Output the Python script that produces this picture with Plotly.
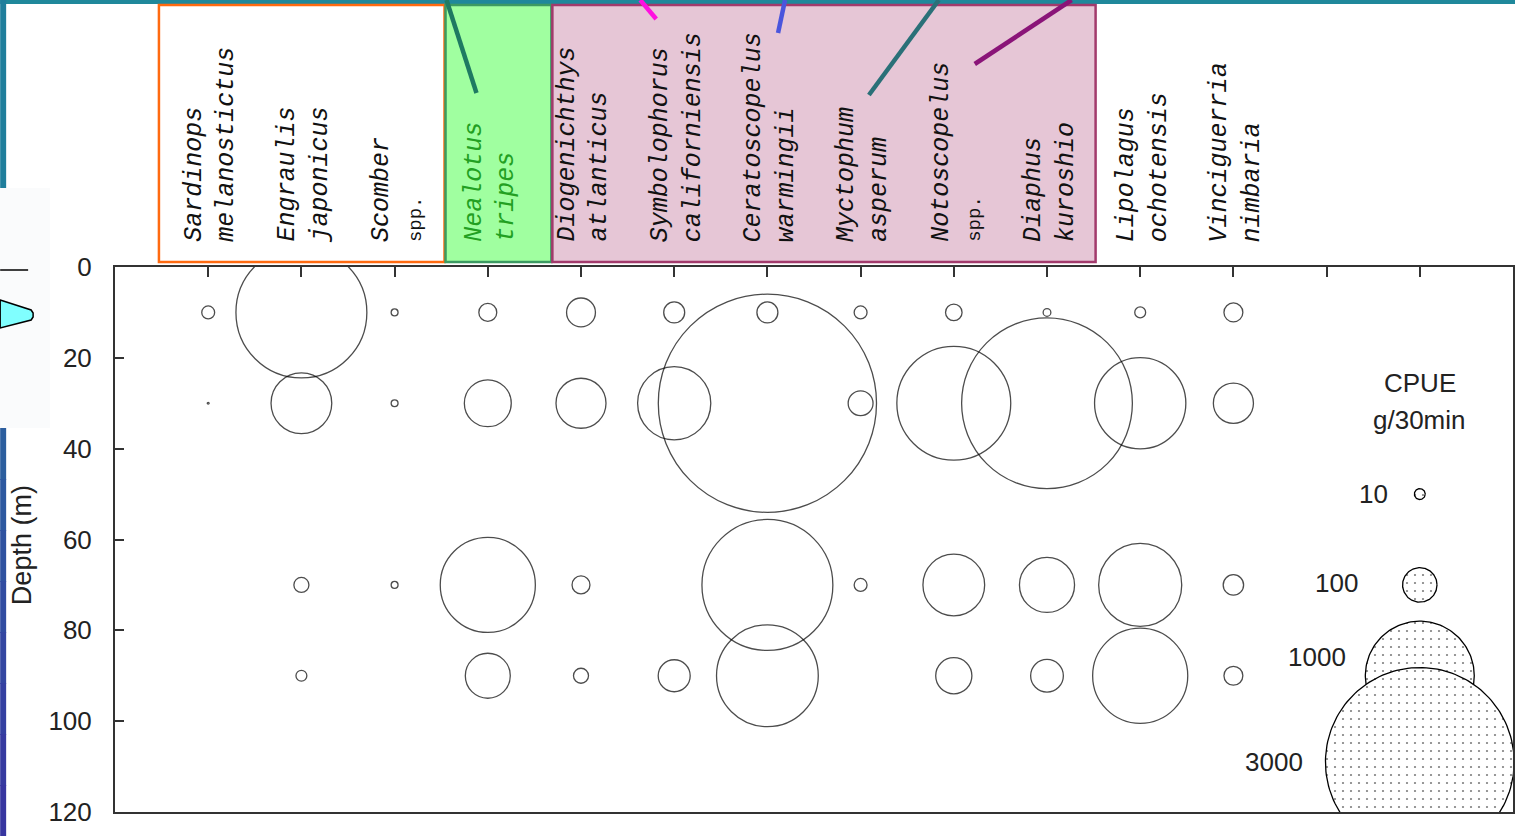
import numpy as np
import plotly.graph_objects as go

# ---------------- data ----------------
species = [
    ("Sardinops", "melanostictus"),
    ("Engraulis", "japonicus"),
    ("Scomber", "spp."),
    ("Nealotus", "tripes"),
    ("Diogenichthys", "atlanticus"),
    ("Symbolophorus", "californiensis"),
    ("Ceratoscopelus", "warmingii"),
    ("Myctophum", "asperum"),
    ("Notoscopelus", "spp."),
    ("Diaphus", "kuroshio"),
    ("Lipolagus", "ochotensis"),
    ("Vinciguerria", "nimbaria"),
]
depths = [10, 30, 70, 90]
# CPUE (g/30min) per species at each depth (None = not caught)
cpue_10m = [14, 1440, 4, 27, 70, 37, 37, 14, 23, 5, 10, 30]
cpue_30m = [0.3, 310, 4, 185, 210, 450, 4000, 52, 1090, 2450, 700, 135]
cpue_70m = [None, 19, 4, 760, 27, None, 1440, 14, 320, 255, 580, 35]
cpue_90m = [None, 10, None, 170, 19, 86, 870, None, 110, 90, 760, 30]

legend_values = [10, 100, 1000, 3000]
legend_depths = [50, 70, 90, 109]
legend_labels = ["10", "100", "1000", "3000"]

depth_ticks = [0, 20, 40, 60, 80, 100, 120]

# ---------------- geometry helpers ----------------
W, H = 1517, 836
ML, MR, MT, MB = 115, 2, 267, 24
PW, PH = W - ML - MR, H - MT - MB
XMAX, YMAX = 15, 120
K = 3.45  # marker diameter (px) per sqrt(g/30min)


def px(x):
    return (x - ML) / PW


def py(y):
    return (H - MB - y) / PH


def diam(v):
    return None if v is None else K * np.sqrt(v)


fig = go.Figure()

cols = list(range(1, len(species) + 1))
for d, vals in zip(depths, [cpue_10m, cpue_30m, cpue_70m, cpue_90m]):
    xs = [c for c, v in zip(cols, vals) if v is not None]
    ss = [diam(v) for v in vals if v is not None]
    fig.add_trace(go.Scatter(
        x=xs, y=[d] * len(xs), mode="markers",
        marker=dict(symbol="circle-open", size=ss, sizemode="diameter",
                    color="black", line=dict(width=1.3, color="black")),
        showlegend=False, hoverinfo="skip"))

# legend circles (dotted)
t = np.linspace(0, 2 * np.pi, 160)
leg_x = 14
for v, d in zip(legend_values, legend_depths):
    r = diam(v) / 2
    rx = r / (PW / XMAX)
    ry = r / (PH / YMAX)
    fig.add_trace(go.Scatter(
        x=leg_x + rx * np.cos(t), y=d + ry * np.sin(t), mode="lines",
        fill="toself", fillcolor="white",
        fillpattern=dict(shape=".", fgcolor="black", bgcolor="white",
                         size=8, solidity=0.06),
        line=dict(color="black", width=1.3),
        showlegend=False, hoverinfo="skip"))

shapes = []
# slide decorations
shapes.append(dict(type="rect", xref="paper", yref="paper",
                   x0=px(0), x1=px(W), y0=py(0), y1=py(4),
                   fillcolor="#1F889B", line=dict(width=0), layer="above"))
shapes.append(dict(type="rect", xref="paper", yref="paper",
                   x0=px(0), x1=px(6), y0=py(0), y1=py(188),
                   fillcolor="#1F7E9C", line=dict(width=0)))
shapes.append(dict(type="rect", xref="paper", yref="paper",
                   x0=px(0), x1=px(50), y0=py(188), y1=py(428),
                   fillcolor="#FAFBFC", line=dict(width=0)))
shapes.append(dict(type="line", xref="paper", yref="paper",
                   x0=px(0), x1=px(28), y0=py(270), y1=py(270),
                   line=dict(color="black", width=1.5)))
tri = [(0, 300), (31, 310), (33, 313), (33, 317), (31, 320), (0, 328)]
path = "M " + " L ".join(f"{px(a)},{py(b)}" for a, b in tri) + " Z"
shapes.append(dict(type="path", xref="paper", yref="paper", path=path,
                   fillcolor="#80FFFF", line=dict(color="black", width=1.5)))
grad = ["#2C5E9E", "#2D58A0", "#2F52A0", "#314CA1", "#3346A1", "#3440A1", "#363AA0", "#3736A0"]
seg = (836 - 428) / len(grad)
for i, c in enumerate(grad):
    shapes.append(dict(type="rect", xref="paper", yref="paper",
                       x0=px(0), x1=px(6), y0=py(428 + i * seg), y1=py(428 + (i + 1) * seg + 1),
                       fillcolor=c, line=dict(width=0)))

# header boxes
boxes = [(159, 445, "white", "#FF6A10"),
         (446, 552, "#A0FFA0", "#3C9A62"),
         (553, 1097, "#E6C6D6", "#A23A6C")]
for x0, x1, fc, lc in boxes:
    shapes.append(dict(type="rect", xref="paper", yref="paper",
                       x0=px(x0), x1=px(x1), y0=py(5), y1=py(262),
                       fillcolor=fc, line=dict(color=lc, width=2.5)))

# coloured pointer lines
pointers = [((447, 0), (477, 93), "#1F7A62"),
            ((641, 0), (657, 19), "#FF10E0"),
            ((786, 0), (779, 33), "#4A55DD"),
            ((940, 0), (870, 95), "#2A7078"),
            ((1073, 0), (976, 64), "#8A1478")]
for (a, b), (c, d), col in pointers:
    shapes.append(dict(type="line", xref="paper", yref="paper",
                       x0=px(a), y0=py(b), x1=px(c), y1=py(d),
                       line=dict(color=col, width=4.5)))

annotations = []
for i, (g, s) in enumerate(species):
    col = "#22A022" if g == "Nealotus" else "#111111"
    if s == "spp.":
        txt = f"<i>{g}</i><br><span style='font-size:19px'>{s}</span>"
    else:
        txt = f"<i>{g}</i><br><i>{s}</i>"
    annotations.append(dict(
        x=i + 1, xref="x", xshift=3, y=py(244), yref="paper", text=txt,
        textangle=-90, xanchor="center", yanchor="bottom", align="left",
        showarrow=False,
        font=dict(family="Liberation Mono", size=25, color=col)))

annotations.append(dict(x=px(22), y=py(545), xref="paper", yref="paper",
                        text="Depth (m)", textangle=-90, showarrow=False,
                        xanchor="center", yanchor="middle",
                        font=dict(family="Liberation Sans", size=27, color="#222")))
annotations.append(dict(x=14, xref="x", y=py(383), yref="paper", text="CPUE",
                        xanchor="center", yanchor="middle",
                        showarrow=False, font=dict(family="Liberation Sans", size=26, color="#222")))
annotations.append(dict(x=14, xref="x", y=py(420), yref="paper", text="g/30min",
                        xanchor="center", yanchor="middle",
                        showarrow=False, font=dict(family="Liberation Sans", size=26, color="#222")))
label_right = [1392, 1362, 1350, 1307]
label_y = [494, 583, 657, 762]
for lab, xr, yy in zip(legend_labels, label_right, label_y):
    annotations.append(dict(x=px(xr), y=py(yy), xref="paper", yref="paper", text=lab,
                            xanchor="right", yanchor="middle", showarrow=False,
                            font=dict(family="Liberation Sans", size=26, color="#222")))

fig.update_layout(
    width=W, height=H, margin=dict(l=ML, r=MR, t=MT, b=MB),
    paper_bgcolor="white", plot_bgcolor="white",
    shapes=shapes, annotations=annotations, showlegend=False,
    xaxis=dict(range=[0, XMAX], side="top", tickvals=list(range(1, 15)),
               ticks="inside", ticklen=10, tickwidth=1.5, tickcolor="#333",
               showticklabels=False, showline=True, linecolor="#333",
               linewidth=2, mirror=True, showgrid=False, zeroline=False),
    yaxis=dict(range=[YMAX, 0], tickvals=depth_ticks, ticks="inside",
               ticklen=9, tickwidth=1.5, tickcolor="#333",
               showline=True, linecolor="#333", linewidth=2, mirror=True,
               showgrid=False, zeroline=False, ticklabelstandoff=16,
               tickfont=dict(family="Liberation Sans", size=26, color="#222")),
)

fig.write_html("out.html", config={"displayModeBar": False},
               post_script="document.body.style.margin='0';document.body.style.overflow='hidden';")
